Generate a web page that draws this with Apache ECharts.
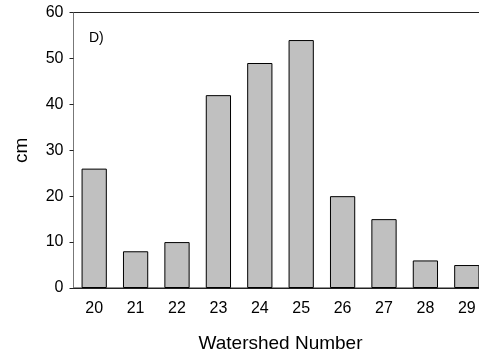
<!DOCTYPE html>
<html><head><meta charset="utf-8">
<script src="https://cdn.jsdelivr.net/npm/echarts@6/dist/echarts.min.js"></script>
<style>html,body{margin:0;padding:0;background:#fff}#c{width:479px;height:360px}</style>
</head><body><div id="c"></div>
<script>
const categories = ['20','21','22','23','24','25','26','27','28','29'];
const values = [26, 8, 10, 42, 49, 54, 20, 15, 6, 5];
const yTicks = [0, 10, 20, 30, 40, 50, 60];

const chart = echarts.init(document.getElementById('c'));
const font = 'Liberation Sans, Arial, sans-serif';
chart.setOption({
  animation: false,
  grid: {left: 73.5, top: 12.5, width: 414, height: 275.5, show: true, borderColor: '#222', borderWidth: 1,
         backgroundColor: 'transparent', containLabel: false, outerBoundsMode: 'none'},
  graphic: [
    {type: 'text', left: 89, top: 31, style: {text: 'D)', font: '14px ' + font, fill: '#000'}}
  ],
  xAxis: {
    type: 'category', data: categories,
    name: 'Watershed Number', nameLocation: 'middle', nameGap: 46,
    nameTextStyle: {fontFamily: font, fontSize: 19, color: '#000'},
    axisLine: {lineStyle: {color: '#222', width: 1}},
    axisTick: {alignWithLabel: true, length: 4, lineStyle: {color: '#222'}},
    axisLabel: {fontFamily: font, fontSize: 16, color: '#000', margin: 13},
    splitLine: {show: false}
  },
  yAxis: {
    type: 'value', min: yTicks[0], max: yTicks[yTicks.length - 1], interval: 10,
    name: 'cm', nameLocation: 'middle', nameGap: 42,
    nameTextStyle: {fontFamily: font, fontSize: 19, color: '#000'},
    axisLine: {show: true, lineStyle: {color: '#777', width: 1}},
    axisTick: {show: true, length: 4, lineStyle: {color: '#222'}},
    axisLabel: {fontFamily: font, fontSize: 16, color: '#000', margin: 10},
    splitLine: {show: false}
  },
  series: [{
    type: 'bar', data: values, barWidth: '61%',
    itemStyle: {color: '#c0c0c0', borderColor: '#000', borderWidth: 1}
  }]
});
</script></body></html>
